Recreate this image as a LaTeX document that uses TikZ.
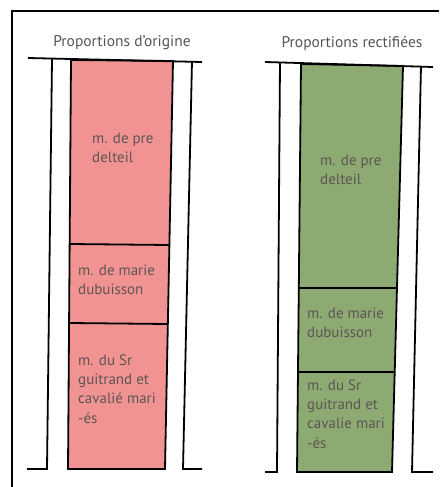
\documentclass[tikz,border=0pt]{standalone}
\usepackage{fontspec}
\setmainfont{PT Sans}
\usetikzlibrary{positioning}
\definecolor{rosefill}{HTML}{F29393}
\definecolor{vertfill}{HTML}{8DAA72}
\definecolor{titregris}{HTML}{555555}
\definecolor{lblgris}{HTML}{5E5555}

\begin{document}
\begin{tikzpicture}[x=1pt,y=-1pt,
    wall/.style={line width=1.8pt, line join=miter},
    bloc/.style={line width=1.8pt, line join=miter},
    lbl/.style={anchor=north west, align=left, inner sep=0pt, text=lblgris,
        font=\fontsize{15}{19.3}\selectfont},
    titre/.style={inner sep=0pt, text=titregris, font=\fontsize{15.5}{17}\selectfont}]
    \useasboundingbox (0,0) rectangle (439,487);
    % cadre
    \draw[line width=2.4pt] (12,487) -- (12,11) -- (439,11);

    % Colonne (a) - proportions d'origine
    \fill[rosefill] (71,60) -- (173,61) -- (165,469) -- (68,469) -- cycle;
    \draw[bloc] (71,60) -- (173,61) -- (165,469) -- (68,469) -- cycle;
    \draw[bloc] (69.6,244) -- (169.4,245);
    \draw[bloc] (69.1,323) -- (167.8,324);
    \draw[wall] (28,58) -- (202,62);
    \draw[wall] (52,59) -- (47,469) -- (27,469);
    \draw[wall] (192,61) -- (183,469) -- (202,469);
    \node[titre] (titreA) at (122,43) {Proportions d'origine};
    \node[lbl] (lblA1) at (92,132.5) {m. de pre\\delteil};
    \node[lbl] (lblA2) at (78,264.5) {m. de marie\\dubuisson};
    \node[lbl] (lblA3) at (78,354.5) {m. du Sr\\guitrand et\\cavalié mari\\-és};

    % Colonne (b) - proportions rectifiees
    \fill[vertfill] (301,64) -- (403,66) -- (392,472) -- (297,472) -- cycle;
    \draw[bloc] (301,64) -- (403,66) -- (392,472) -- (297,472) -- cycle;
    \draw[bloc] (298.8,288) -- (397,288);
    \draw[bloc] (298,372) -- (394.7,372);
    \draw[wall] (265,62) -- (433,67);
    \draw[wall] (280,62) -- (277,472) -- (265,472);
    \draw[wall] (421,66) -- (412,472) -- (433,472);
    \node[titre] (titreB) at (352,43) {Proportions rectifiées};
    \node[lbl] (lblB1) at (320,154.5) {m. de pre\\delteil};
    \node[lbl] (lblB2) at (307,307.5) {m. de marie\\dubuisson};
    \node[lbl] (lblB3) at (307,379.5) {m. du Sr\\guitrand et\\cavalie mari\\-és};
\end{tikzpicture}
\end{document}
